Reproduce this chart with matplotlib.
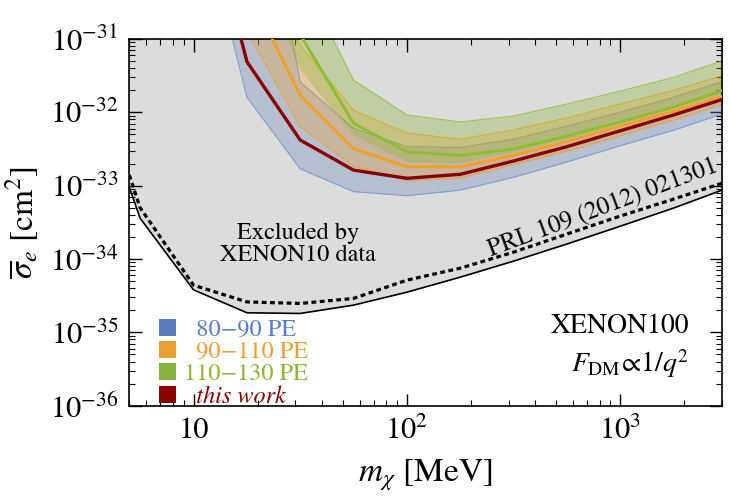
import numpy as np
import matplotlib
matplotlib.use("Agg")
import matplotlib.pyplot as plt
from matplotlib.patches import Patch
from matplotlib.ticker import FixedLocator, LogLocator, NullFormatter

plt.rcParams['font.family'] = ['STIXGeneral', 'DejaVu Serif']
plt.rcParams['mathtext.fontset'] = 'stix'

# ---------------- data ----------------
# XENON10 (solid) and PRL 109 (2012) 021301 (dotted) limits
m_x10 = [5, 5.62, 10, 17.8, 31.6, 56.2, 100, 178, 316, 562, 1000, 1778, 3000]
sig_x10_solid = [9.5e-34, 3.6e-34, 3.8e-35, 1.85e-35, 1.81e-35, 2.35e-35, 3.53e-35,
                 5.66e-35, 9.35e-35, 1.6e-34, 2.8e-34, 4.95e-34, 8.7e-34]
sig_x10_dotted = [1.4e-33, 5.0e-34, 4.4e-35, 2.6e-35, 2.48e-35, 2.9e-35, 5.15e-35,
                  7.5e-35, 1.24e-34, 2.19e-34, 3.85e-34, 6.56e-34, 1.08e-33]

# XENON100 bands
m_band = [10, 17.8, 31.6, 56.2, 100, 178, 316, 562, 1000, 1778, 3162]
blue_lo = [1.3e-29, 1.6e-32, 1.7e-33, 8.3e-34, 7.3e-34, 8.7e-34, 1.3e-33, 2.1e-33, 3.5e-33, 5.7e-33, 1.0e-32]
blue_hi = [1e-27, 2.3e-28, 2.6e-32, 6.05e-33, 3.4e-33, 3.33e-33, 4.3e-33, 6.5e-33, 1.0e-32, 1.6e-32, 2.75e-32]
orange_lo = [1e-29, 1.26e-31, 6.4e-33, 1.85e-33, 1.17e-33, 1.27e-33, 1.94e-33, 2.96e-33, 4.8e-33, 7.85e-33, 1.34e-32]
orange_mid = [1e-29, 5e-31, 1.72e-32, 3.2e-33, 1.81e-33, 1.8e-33, 2.6e-33, 4.0e-33, 6.5e-33, 1.04e-32, 1.72e-32]
orange_hi = [1e-28, 1e-30, 8.3e-32, 1.07e-32, 5.2e-33, 4.3e-33, 5.75e-33, 8.4e-33, 1.3e-32, 2.0e-32, 3.3e-32]
green_lo = [1e-28, 2.1e-30, 3.8e-32, 4.9e-33, 2.1e-33, 2.04e-33, 2.9e-33, 4.4e-33, 7.1e-33, 1.15e-32, 1.9e-32]
green_mid = [1e-28, 1.9e-30, 1.15e-31, 7.1e-33, 2.9e-33, 2.58e-33, 3.16e-33, 4.75e-33, 7.4e-33, 1.18e-32, 2.08e-32]
green_hi = [1e-27, 1e-29, 7.6e-31, 2.76e-32, 9.2e-33, 7.4e-33, 8.9e-33, 1.3e-32, 1.95e-32, 3.0e-32, 5.3e-32]
this_work = [3.2e-29, 4.9e-32, 4.2e-33, 1.63e-33, 1.26e-33, 1.43e-33, 2.17e-33, 3.4e-33, 5.6e-33, 9.2e-33, 1.57e-32]

legend_labels = ["  80\u221290 PE", "  90\u2212110 PE", "110\u2212130 PE", "  this work"]
x_ticks = [10, 100, 1000]
x_ticklabels = ["10", "$10^2$", "$10^3$"]
y_ticks = [1e-36, 1e-35, 1e-34, 1e-33, 1e-32, 1e-31]
y_ticklabels = ["$10^{-36}$", "$10^{-35}$", "$10^{-34}$", "$10^{-33}$", "$10^{-32}$", "$10^{-31}$"]

# ---------------- style ----------------
c_gray = '#dcdcdc'
c_blue, c_blue_edge, c_blue_txt = '#6a88bb', '#7aa0d8', '#5580c8'
c_orange, c_orange_line = '#f0a532', '#f5a020'
c_green, c_green_line = '#8cb432', '#8cbf30'
c_red = '#8b0000'

fig = plt.figure(figsize=(7.3, 5.0), dpi=100)
ax = fig.add_axes([129.3/730, 1 - 405.7/500, (722 - 129.3)/730, (405.7 - 39)/500])
ax.set_xscale('log')
ax.set_yscale('log')
ax.set_xlim(5, 3000)
ax.set_ylim(1e-36, 1e-31)

# excluded region
ax.fill_between(m_x10, sig_x10_solid, 1e-30, color=c_gray, lw=0, zorder=1)
ax.plot(m_x10, sig_x10_solid, color='black', lw=1.2, zorder=3)
ax.plot(m_x10, sig_x10_dotted, color='black', lw=2.3, ls=(0, (1.5, 1.1)), zorder=3)

# bands
ax.fill_between(m_band, blue_lo, blue_hi, color=c_blue, alpha=0.34, lw=0, zorder=2)
ax.plot(m_band, blue_lo, color=c_blue_edge, lw=0.8, zorder=2.1)
ax.plot(m_band, blue_hi, color='#8a96a8', lw=0.8, zorder=2.1)
ax.fill_between(m_band, orange_lo, orange_hi, color=c_orange, alpha=0.32, lw=0, zorder=2.2)
ax.plot(m_band, orange_lo, color=c_orange_line, lw=0.8, alpha=0.8, zorder=2.3)
ax.plot(m_band, orange_hi, color=c_orange_line, lw=0.8, alpha=0.8, zorder=2.3)
ax.fill_between(m_band, green_lo, green_hi, color=c_green, alpha=0.33, lw=0, zorder=2.4)
ax.plot(m_band, green_hi, color=c_green_line, lw=0.8, alpha=0.8, zorder=2.5)
ax.plot(m_band, orange_mid, color=c_orange_line, lw=2.0, zorder=4)
ax.plot(m_band, green_mid, color=c_green_line, lw=2.0, zorder=4.1)
ax.plot(m_band, this_work, color=c_red, lw=2.4, zorder=5)

# ticks
ax.xaxis.set_major_locator(FixedLocator(x_ticks))
ax.set_xticklabels(x_ticklabels)
ax.xaxis.set_minor_locator(LogLocator(base=10, subs=np.arange(2, 10)))
ax.xaxis.set_minor_formatter(NullFormatter())
ax.yaxis.set_major_locator(FixedLocator(y_ticks))
ax.set_yticklabels(y_ticklabels)
ax.yaxis.set_minor_locator(LogLocator(base=10, subs=np.arange(2, 10), numticks=20))
ax.yaxis.set_minor_formatter(NullFormatter())
ax.tick_params(which='both', direction='in', top=True, right=True, colors='black', labelsize=22)
ax.tick_params(which='major', length=9, width=1.0, pad=8)
ax.tick_params(which='minor', length=4, width=0.8)
for s in ax.spines.values():
    s.set_linewidth(1.2)

ax.set_xlabel(r'$m_\chi$ [MeV]', fontsize=24, labelpad=8)
ax.set_ylabel(r'$\overline{\sigma}_e$ [cm$^2$]', fontsize=24, labelpad=6)

# annotations
ax.text(0.285, 0.44, 'Excluded by\nXENON10 data', transform=ax.transAxes, fontsize=17.5,
        ha='center', va='center', linespacing=1.05, zorder=6)
ax.text(0.945, 0.215, 'XENON100', transform=ax.transAxes, fontsize=20, ha='right', va='center', zorder=6)
ax.text(0.945, 0.115, r'$F_{\rm DM}\!\propto\!1/q^2$', transform=ax.transAxes, fontsize=20,
        ha='right', va='center', zorder=6)
ax.text(0.80, 0.537, 'PRL 109 (2012) 021301', transform=ax.transAxes, fontsize=18,
        ha='center', va='center', rotation=20.5, rotation_mode='anchor', zorder=6)

# legend
sw_colors = ['#5a7fbf', '#e8a030', '#88b03c', c_red]
txt_colors = [c_blue_txt, '#f0a030', '#8ab830', c_red]
handles = [Patch(facecolor=c, edgecolor='none') for c in sw_colors]
leg = ax.legend(handles, legend_labels, loc='lower left', bbox_to_anchor=(0.05, -0.005),
                frameon=False, fontsize=17.5, labelcolor=txt_colors, handlelength=0.7,
                handleheight=0.7, handletextpad=0.35, labelspacing=0.0, borderpad=0,
                borderaxespad=0)
leg.get_texts()[3].set_style('italic')
leg.set_zorder(7)

fig.savefig('out.png', dpi=100)
